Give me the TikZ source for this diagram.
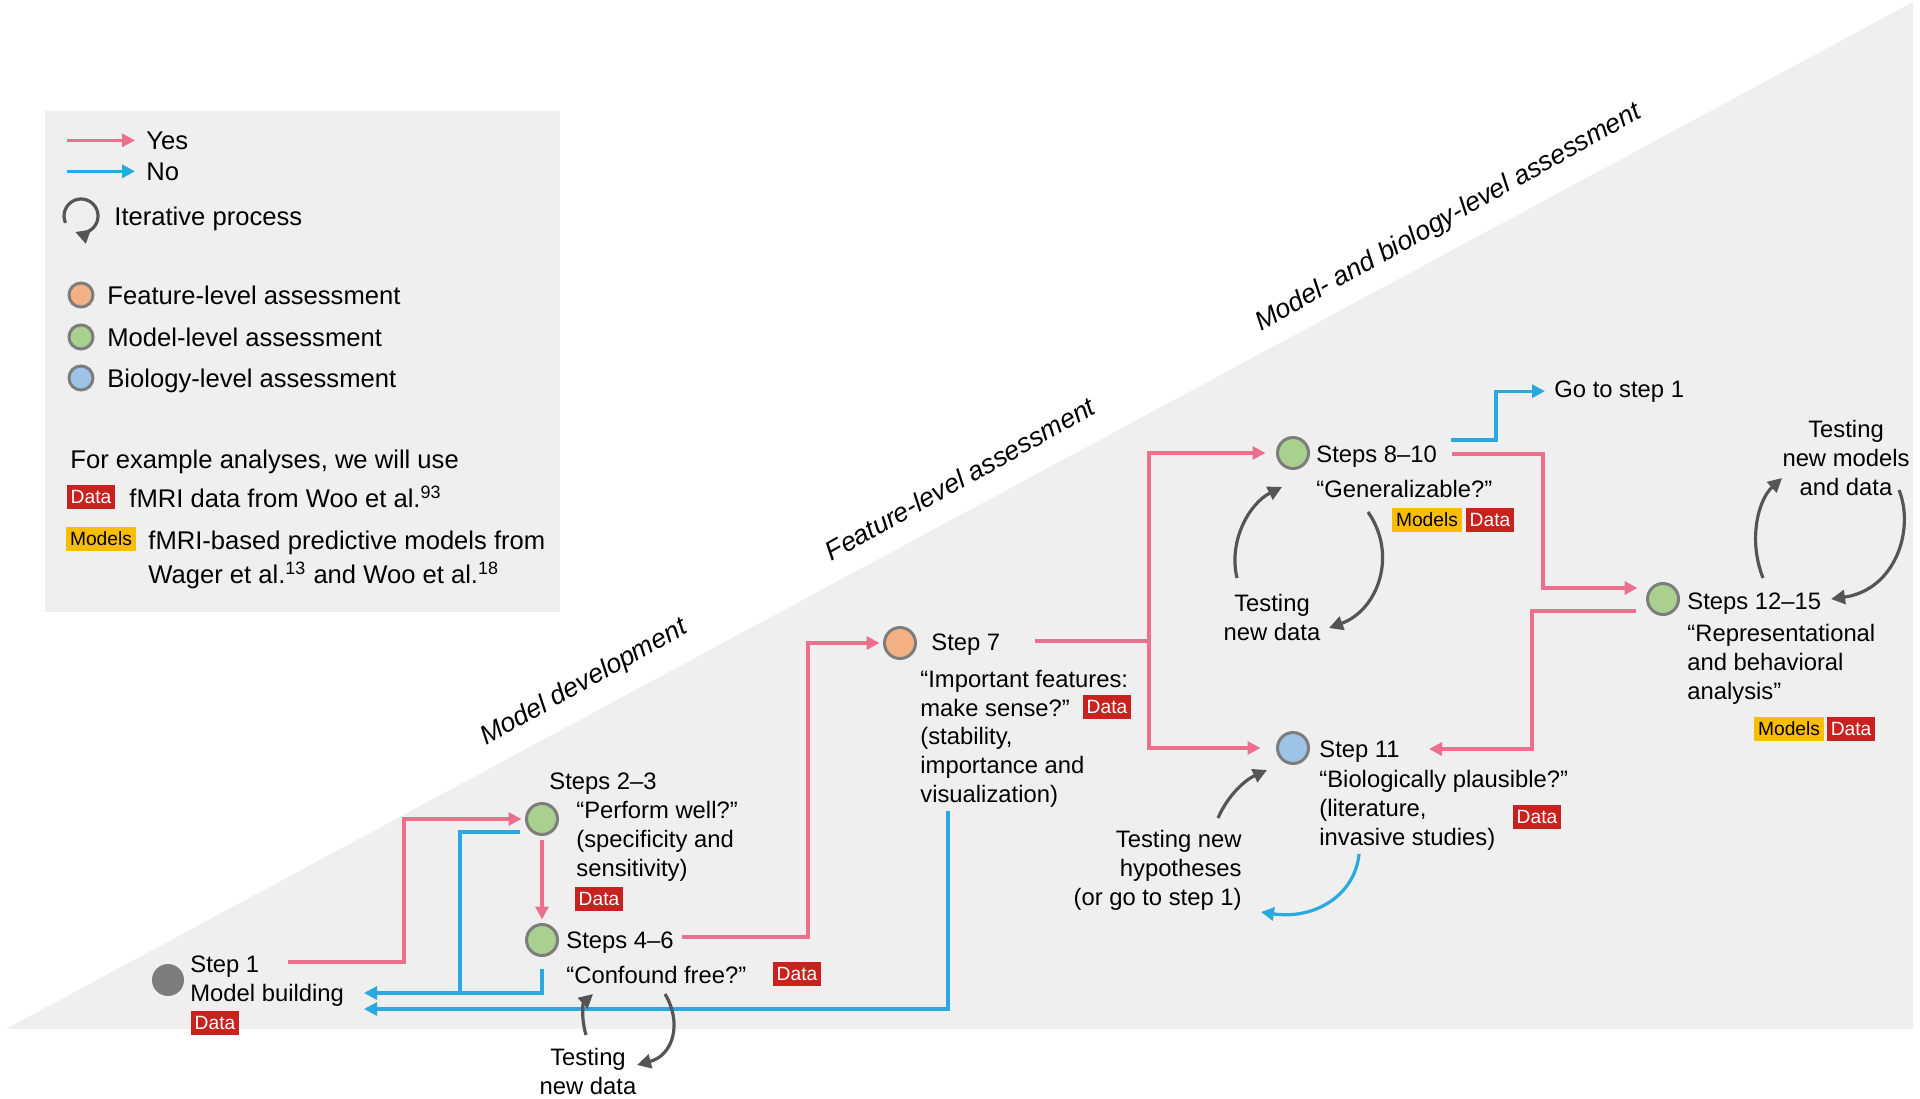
\documentclass[tikz,border=0pt]{standalone}
\usepackage{fontspec}
\setmainfont{Liberation Sans}
\usetikzlibrary{arrows.meta,positioning}

\definecolor{yescol}{RGB}{236,112,142}
\definecolor{nocol}{RGB}{41,169,224}
\definecolor{itercol}{RGB}{85,85,85}
\definecolor{bggray}{RGB}{239,239,239}
\definecolor{ringgray}{RGB}{125,125,125}
\definecolor{featfill}{RGB}{244,177,131}
\definecolor{modelfill}{RGB}{169,208,142}
\definecolor{biofill}{RGB}{157,195,230}
\definecolor{datared}{RGB}{200,33,30}
\definecolor{modelsyel}{RGB}{250,189,0}

\tikzset{
  yesarrow/.style={draw=yescol, line width=1.6pt, -{Triangle[length=6.5pt,width=6.5pt]}},
  noarrow/.style={draw=nocol, line width=1.6pt, -{Triangle[length=6.5pt,width=6.5pt]}},
  noline/.style={draw=nocol, line width=1.6pt},
  yesline/.style={draw=yescol, line width=1.6pt},
  iterarrow/.style={draw=itercol, line width=1.6pt, -{Triangle[length=7pt,width=7pt]}},
  stepdot/.style={circle, draw=ringgray, line width=1.5pt, minimum size=15.5pt,
    inner sep=0pt, outer sep=2.5pt},
  featdot/.style={stepdot, fill=featfill},
  modeldot/.style={stepdot, fill=modelfill},
  biodot/.style={stepdot, fill=biofill},
  legdot/.style={stepdot, minimum size=12pt},
  steptxt/.style={anchor=base west, inner sep=0pt, align=left,
    font=\fontsize{11.9}{14.3}\selectfont},
  legtxt/.style={anchor=base west, inner sep=0pt, align=left,
    font=\fontsize{12.8}{17}\selectfont},
  datatag/.style={fill=datared, text=white, inner xsep=1.8pt, inner ysep=0pt,
    minimum height=12pt, font=\fontsize{9.6}{10}\selectfont},
  modelstag/.style={datatag, fill=modelsyel, text=black},
  phase/.style={rotate=29.3, font=\fontsize{13.3}{15}\selectfont\itshape},
}

\begin{document}
\begin{tikzpicture}[x=0.5pt,y=-0.5pt]
\useasboundingbox (0,0) rectangle (1920,1098);
% grey wedge and legend panel
\fill[bggray] (6,1029) -- (1913,2) -- (1913,1029) -- cycle;
\fill[bggray] (45,111) rectangle (560,612);

% legend
\node[legtxt] (lyes) at (146,149) {Yes};
\node[legtxt] (lno) at (146,180) {No};
\draw[yesarrow] ([xshift=-39.5pt]lyes.west) -- ([xshift=-5.5pt]lyes.west);
\draw[noarrow] ([xshift=-39.5pt]lno.west) -- ([xshift=-5.5pt]lno.west);
\draw[iterarrow] (65.5,222.9) arc[start angle=-204, end angle=110, radius=17];
\node[legtxt] (liter) at (114,225) {Iterative process};
\node[legdot, fill=featfill] (lfeat) at (81,295) {};
\node[legtxt] at (107,304) {Feature-level assessment};
\node[legdot, fill=modelfill] (lmodel) at (81,337) {};
\node[legtxt] at (107,346) {Model-level assessment};
\node[legdot, fill=biofill] (lbio) at (81,378) {};
\node[legtxt] at (107,387) {Biology-level assessment};
\node[legtxt] (lexample) at (70,468) {For example analyses, we will use};
\node[datatag] (ldata) at (91,497) {Data};
\node[legtxt] at (129,507) {fMRI data from Woo et al.\textsuperscript{93}};
\node[modelstag] (lmodels) at (101,539) {Models};
\node[legtxt] at (148,583) {fMRI-based predictive models from\\
  Wager et al.\textsuperscript{13} and Woo et al.\textsuperscript{18}};

% phases
\node[phase] (ph1) at (584,683) {Model development};
\node[phase] (ph2) at (960,479) {Feature-level assessment};
\node[phase] (ph3) at (1449,218) {Model- and biology-level assessment};

% step 1
\node[circle, fill=ringgray, minimum size=16pt, inner sep=0pt] (s1) at (168,980) {};
\node[steptxt] (l1) at (190,1001) {Step 1\\Model building};
\node[datatag] (d1) at (215,1023) {Data};

% steps 2-3
\node[modeldot] (s23) at (542,819) {};
\node[steptxt] (l23) at (549,789) {Steps 2--3};
\node[steptxt] (t23) at (576,876) {“Perform well?”\\(specificity and\\sensitivity)};
\node[datatag] (d23) at (599,899) {Data};

% steps 4-6
\node[modeldot] (s46) at (542,940) {};
\node[steptxt] (l46) at (566,948) {Steps 4--6};
\node[steptxt] (t46) at (566,983) {“Confound free?”};
\node[datatag] (d46) at (797,974) {Data};

% step 7
\node[featdot] (s7) at (900,643) {};
\node[steptxt] (l7) at (931,650) {Step 7};
\node[steptxt] (t7) at (920,802) {“Important features:\\make sense?”\\(stability,\\importance and\\visualization)};
\node[datatag] (d7) at (1107,707) {Data};

% steps 8-10
\node[modeldot] (s810) at (1293,453) {};
\node[steptxt] (l810) at (1316,462) {Steps 8--10};
\node[steptxt] (t810) at (1316,497) {“Generalizable?”};
\node[modelstag] (m810) at (1427,520) {Models};
\node[datatag] (d810) at (1490,520) {Data};
\node[steptxt] (go) at (1554,397) {Go to step 1};

% step 11
\node[biodot] (s11) at (1293,748) {};
\node[steptxt] (l11) at (1319,757) {Step 11};
\node[steptxt] (t11) at (1319,845) {“Biologically plausible?"\\(literature,\\invasive studies)};
\node[datatag] (d11) at (1537,817) {Data};

% steps 12-15
\node[modeldot] (s1215) at (1663,599) {};
\node[steptxt] (l1215) at (1687,609) {Steps 12--15};
\node[steptxt] (t1215) at (1687,699) {“Representational\\and behavioral\\analysis”};
\node[modelstag] (m1215) at (1789,729) {Models};
\node[datatag] (d1215) at (1851,729) {Data};

% iteration labels
\node[steptxt, anchor=base, align=center] (it46) at (588,1094) {Testing\\new data};
\node[steptxt, anchor=base, align=center] (it810) at (1272,640) {Testing\\new data};
\node[steptxt, anchor=base, align=center] (it1215) at (1846,495) {Testing\\new models\\and data};
\node[steptxt, anchor=base east, align=right] (it11) at (1242,905) {Testing new\\hypotheses\\(or go to step 1)};

% connector ends
\coordinate (p1) at (288,962);
\coordinate (p2) at (682,937);
\coordinate (p3) at (1035,641);
\coordinate (j7) at (1149,641);
\coordinate (p4) at (1452,454);
\coordinate (p5) at (1636,611);
\coordinate (n3) at (1429,749);
\coordinate (b1) at (520,832);
\coordinate (j1) at (460,993);
\coordinate (n1) at (364,993);
\coordinate (b3) at (948,811);
\coordinate (n2) at (364,1009);
\coordinate (b4) at (1451,440);

% yes
\draw[yesarrow] (p1) -- ++(116,0) |- (s23);
\draw[yesarrow] (s23) -- (s46);
\draw[yesarrow] (p2) -- ++(126,0) |- (s7);
\draw[yesline] (p3) -- (j7);
\draw[yesarrow, shorten >=3.5pt] (j7) |- (s810);
\draw[yesarrow, shorten >=6pt] (j7) |- (s11);
\draw[yesarrow, shorten >=2.5pt] (p4) -- ++(91,0) |- ([yshift=5.5pt]s1215.west);
\draw[yesarrow] (p5) -- ++(-104,0) |- (n3);

% no
\draw[noarrow] (b1) -| (j1) -- (n1);
\draw[noline] ([yshift=-4pt]s46.south) |- (j1);
\draw[noarrow] (b3) |- (n2);
\draw[noarrow, shorten >=4.5pt] (b4) -- ++(45,0) |- (go.west);

% iterations
\coordinate (i1a) at (586,1035); \coordinate (i1b) at (593,994);
\coordinate (i2a) at (665,994);  \coordinate (i2b) at (637,1065);
\coordinate (i3a) at (1237,578); \coordinate (i3b) at (1282,487);
\coordinate (i4a) at (1368,512); \coordinate (i4b) at (1329,628);
\coordinate (i5a) at (1763,578); \coordinate (i5b) at (1782,478);
\coordinate (i6a) at (1899,490); \coordinate (i6b) at (1831,599);
\coordinate (i7a) at (1218,818); \coordinate (i7b) at (1267,770);
\coordinate (i8a) at (1359,854); \coordinate (i8b) at (1261,912);
\draw[iterarrow] (i1a) .. controls (581,1018) and (583,1003) .. (i1b);
\draw[iterarrow] (i2a) .. controls (682,1022) and (674,1055) .. (i2b);
\draw[iterarrow] (i3a) .. controls (1228,540) and (1250,503) .. (i3b);
\draw[iterarrow] (i4a) .. controls (1398,555) and (1378,610) .. (i4b);
\draw[iterarrow] (i5a) .. controls (1748,540) and (1758,500) .. (i5b);
\draw[iterarrow] (i6a) .. controls (1915,530) and (1895,590) .. (i6b);
\draw[iterarrow] (i7a) .. controls (1228,795) and (1245,780) .. (i7b);
\draw[noarrow] (i8a) .. controls (1355,895) and (1315,920) .. (i8b);
\end{tikzpicture}
\end{document}
